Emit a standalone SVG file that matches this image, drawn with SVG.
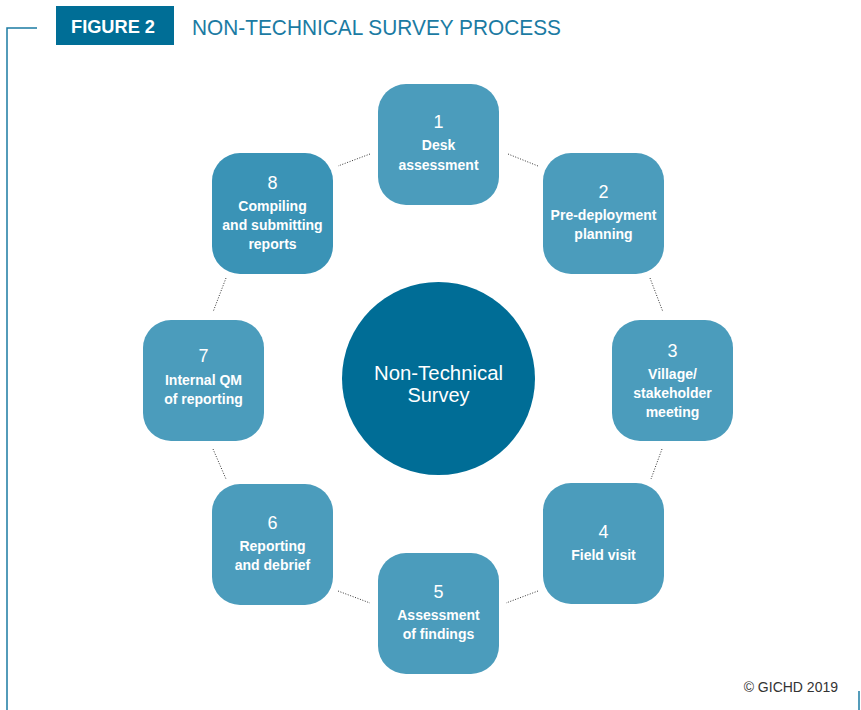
<svg xmlns="http://www.w3.org/2000/svg" width="861" height="710" viewBox="0 0 861 710">
<style>
.box{fill:#4b9cbc}
.box8{fill:#3a93b6}
.num{font-family:"Liberation Sans",Arial,sans-serif;font-size:18px;fill:#ffffff;text-anchor:middle}
.lbl{font-family:"Liberation Sans",Arial,sans-serif;font-size:14px;font-weight:bold;fill:#ffffff;text-anchor:middle}
.conn{stroke:#333333;stroke-width:1;stroke-dasharray:1 1.6;fill:none}
.frame{stroke:#1b7ba3;stroke-width:1.5;fill:none}
</style>
<rect width="861" height="710" fill="#ffffff"/>
<g id="header">
<rect x="56" y="6" width="118" height="39" fill="#006e96"/>
<text x="71" y="33" font-family="Liberation Sans,Arial,sans-serif" font-size="19" font-weight="bold" fill="#ffffff" textLength="84" lengthAdjust="spacingAndGlyphs">FIGURE 2</text>
<text x="192" y="35" font-family="Liberation Sans,Arial,sans-serif" font-size="22.5" fill="#1b7ba3" textLength="369" lengthAdjust="spacingAndGlyphs">NON-TECHNICAL SURVEY PROCESS</text>
</g>
<path class="frame" d="M37 28H7V710"/>
<path class="frame" d="M859 691V710"/>
<text x="838" y="692" font-family="Liberation Sans,Arial,sans-serif" font-size="14" fill="#333333" text-anchor="end">© GICHD 2019</text>
<g id="connectors">
<line class="conn" x1="370" y1="154" x2="338" y2="166"/>
<line class="conn" x1="508" y1="154" x2="538" y2="166"/>
<line class="conn" x1="650" y1="278" x2="663" y2="312"/>
<line class="conn" x1="662" y1="449" x2="651" y2="479"/>
<line class="conn" x1="538" y1="591" x2="506" y2="603"/>
<line class="conn" x1="338" y1="591" x2="370" y2="603"/>
<line class="conn" x1="213" y1="449" x2="226" y2="479"/>
<line class="conn" x1="226" y1="278" x2="213" y2="312"/>
</g>
<g id="center">
<circle cx="438.5" cy="378.5" r="96.5" fill="#006d96"/>
<text x="438.5" y="380" font-family="Liberation Sans,Arial,sans-serif" font-size="20" fill="#ffffff" text-anchor="middle" textLength="129" lengthAdjust="spacingAndGlyphs">Non-Technical</text>
<text x="438.5" y="402" font-family="Liberation Sans,Arial,sans-serif" font-size="20" fill="#ffffff" text-anchor="middle">Survey</text>
</g>
<g id="node1">
<rect class="box" x="378" y="84" width="121" height="121" rx="28"/>
<text class="num" x="438.5" y="128">1</text>
<text class="lbl" x="438.5" y="150">Desk</text>
<text class="lbl" x="438.5" y="170">assessment</text>
</g>
<g id="node2">
<rect class="box" x="543" y="153" width="121" height="121" rx="28"/>
<text class="num" x="603.5" y="198">2</text>
<text class="lbl" x="603.5" y="220">Pre-deployment</text>
<text class="lbl" x="603.5" y="239">planning</text>
</g>
<g id="node3">
<rect class="box" x="612" y="320" width="121" height="121" rx="28"/>
<text class="num" x="672.5" y="357">3</text>
<text class="lbl" x="672.5" y="379">Village/</text>
<text class="lbl" x="672.5" y="398">stakeholder</text>
<text class="lbl" x="672.5" y="417">meeting</text>
</g>
<g id="node4">
<rect class="box" x="543" y="483" width="121" height="121" rx="28"/>
<text class="num" x="603.5" y="538">4</text>
<text class="lbl" x="603.5" y="560">Field visit</text>
</g>
<g id="node5">
<rect class="box" x="378" y="553" width="121" height="121" rx="28"/>
<text class="num" x="438.5" y="598">5</text>
<text class="lbl" x="438.5" y="620">Assessment</text>
<text class="lbl" x="438.5" y="639">of findings</text>
</g>
<g id="node6">
<rect class="box" x="212" y="484" width="121" height="121" rx="28"/>
<text class="num" x="272.5" y="529">6</text>
<text class="lbl" x="272.5" y="551">Reporting</text>
<text class="lbl" x="272.5" y="570">and debrief</text>
</g>
<g id="node7">
<rect class="box" x="143" y="320" width="121" height="121" rx="28"/>
<text class="num" x="203.5" y="362">7</text>
<text class="lbl" x="203.5" y="385">Internal QM</text>
<text class="lbl" x="203.5" y="404">of reporting</text>
</g>
<g id="node8">
<rect class="box8" x="212" y="153" width="121" height="121" rx="28"/>
<text class="num" x="272.5" y="189">8</text>
<text class="lbl" x="272.5" y="211">Compiling</text>
<text class="lbl" x="272.5" y="230">and submitting</text>
<text class="lbl" x="272.5" y="249">reports</text>
</g>
</svg>
